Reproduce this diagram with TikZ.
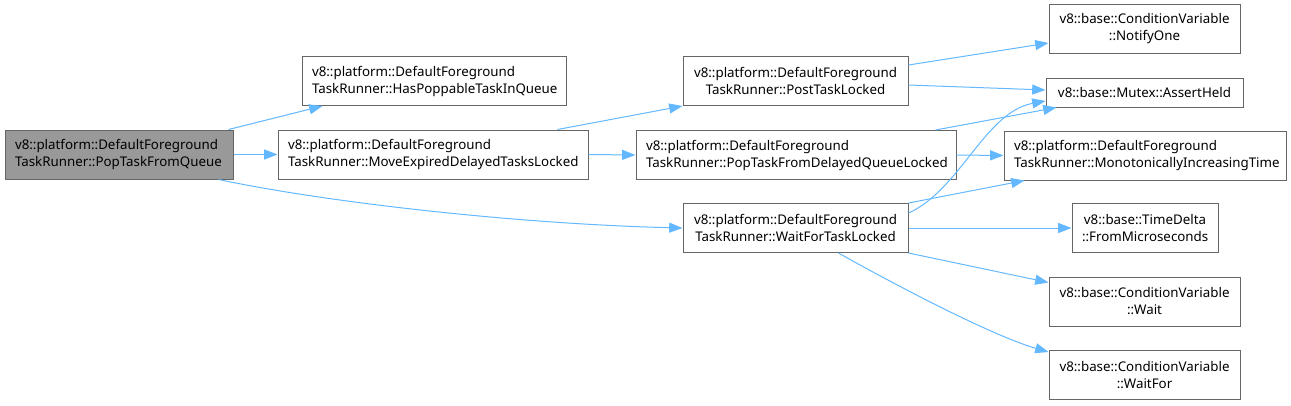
\documentclass[tikz,border=0pt]{standalone}
\usepackage{fontspec}
\setmainfont{Noto Sans}
\usetikzlibrary{arrows.meta}
\definecolor{edgec}{HTML}{63B8FF}
\definecolor{framec}{HTML}{666666}
\definecolor{rootc}{HTML}{999999}
\tikzset{
  fn/.style={draw=framec, line width=0.75pt, fill=white, inner xsep=7.5pt, inner ysep=0pt,
    minimum height=36.75pt, font={\fontsize{10pt}{12.75pt}\selectfont}, align=center},
  fnl/.style={fn, align=left},
  boxw/.style={text width={(#1-20)*0.75pt}},
  call/.style={draw=edgec, line width=0.75pt, -{Triangle[length=10pt,width=7.5pt]}},
}

\begin{document}
\begin{tikzpicture}[x=0.75pt, y=-0.75pt]
  \useasboundingbox (0,0) rectangle (1291,405);
  % callers
  \node[fnl, boxw=228, fill=rootc] (pop) at (119,154.5) {v8::platform::DefaultForeground\\TaskRunner::PopTaskFromQueue};
  \node[fnl, boxw=264] (has) at (434,81) {v8::platform::DefaultForeground\\TaskRunner::HasPoppableTaskInQueue};
  \node[fnl, boxw=310] (move) at (433,154.5) {v8::platform::DefaultForeground\\TaskRunner::MoveExpiredDelayedTasksLocked};
  \node[fn, boxw=225] (post) at (795.5,81) {v8::platform::DefaultForeground\\TaskRunner::PostTaskLocked};
  \node[fnl, boxw=320] (delayed) at (796,155) {v8::platform::DefaultForeground\\TaskRunner::PopTaskFromDelayedQueueLocked};
  \node[fn, boxw=225] (waitlock) at (795.5,228) {v8::platform::DefaultForeground\\TaskRunner::WaitForTaskLocked};
  % leaves
  \node[fn, boxw=191] (notify) at (1144.5,29) {v8::base::ConditionVariable\\::NotifyOne};
  \node[fn, boxw=197, minimum height=21.75pt] (held) at (1144.5,92.5) {v8::base::Mutex::AssertHeld};
  \node[fnl, boxw=282] (mono) at (1145,155.5) {v8::platform::DefaultForeground\\TaskRunner::MonotonicallyIncreasingTime};
  \node[fn, boxw=146] (micro) at (1145,228) {v8::base::TimeDelta\\::FromMicroseconds};
  \node[fn, boxw=191] (wait) at (1144.5,301.5) {v8::base::ConditionVariable\\::Wait};
  \node[fn, boxw=191] (waitfor) at (1144.5,375) {v8::base::ConditionVariable\\::WaitFor};

  % calls
  \draw[call] ([xshift=-3.75pt]pop.north east) -- ([xshift=15.75pt]has.south west);
  \draw[call] (pop.east) -- (move.west);
  \draw[call] ([xshift=-11.25pt]pop.south east) .. controls (330,203) and (520,224) .. (waitlock.west);
  \draw[call] ([xshift=-23.25pt]move.north east) -- (post.south west);
  \draw[call] (move.east) -- (delayed.west);
  \draw[call] ([yshift=12pt]post.east) -- ([yshift=-10.5pt]notify.west);
  \draw[call] ([yshift=-3pt]post.east) -- ([yshift=1.875pt]held.west);
  \draw[call] ([xshift=-15.75pt]delayed.north east) -- ([xshift=8.25pt]held.south west);
  \draw[call] (delayed.east) -- (mono.west);
  \draw[call] ([yshift=11.25pt]waitlock.east) .. controls (960,190) and (985,112) .. ([yshift=-6.375pt]held.west);
  \draw[call] (waitlock.north east) -- ([xshift=15.75pt]mono.south west);
  \draw[call] (waitlock.east) -- (micro.west);
  \draw[call] (waitlock.south east) -- ([yshift=-4.5pt]wait.north west);
  \draw[call] ([xshift=-52.5pt]waitlock.south east) .. controls (890,282) and (990,335) .. ([yshift=-1.5pt]waitfor.north west);
\end{tikzpicture}
\end{document}
